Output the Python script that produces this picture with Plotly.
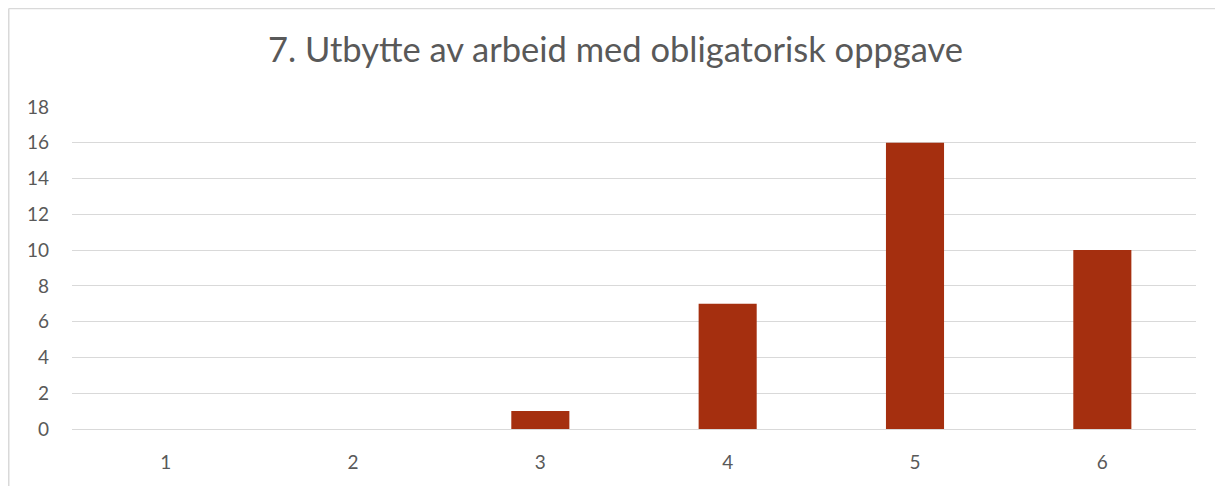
import plotly.graph_objects as go

# data
categories = ["1", "2", "3", "4", "5", "6"]
counts = [0, 0, 1, 7, 16, 10]
y_ticks = [0, 2, 4, 6, 8, 10, 12, 14, 16, 18]

# page body adds an 8px offset, so the figure is sized to fit the window
W, H = 1215, 478
L, R, T, B = 64, 27, 99, 57
plot_w = W - L - R
plot_h = H - T - B

fig = go.Figure()
fig.add_trace(go.Bar(
    x=categories, y=counts,
    marker=dict(color="#A52F0F", line=dict(width=0)),
    hoverinfo="x+y",
))

grey = "#595959"
fig.update_layout(
    width=W, height=H,
    margin=dict(l=L, r=R, t=T, b=B),
    paper_bgcolor="white", plot_bgcolor="white",
    font=dict(family="Lato, Open Sans, sans-serif", size=19, color=grey),
    title=dict(
        text="7. Utbytte av arbeid med obligatorisk oppgave",
        x=0.5, xanchor="center", y=1 - 42 / H, yanchor="middle",
        font=dict(size=34.5, color=grey),
    ),
    bargap=0.69,
    showlegend=False,
    xaxis=dict(
        type="category", showgrid=False, showline=False, ticks="",
        ticklabelstandoff=20, tickfont=dict(size=19, color=grey),
    ),
    yaxis=dict(
        range=[0, 18], tickvals=y_ticks, showgrid=True,
        gridcolor="#D9D9D9", gridwidth=1, zeroline=True,
        zerolinecolor="#D9D9D9", zerolinewidth=1, showline=False,
        ticks="", ticklabelstandoff=22, tickfont=dict(size=19, color=grey),
    ),
)

# chart-area border (only top and left edges visible in the crop)
bx = (0.75 - L) / plot_w
by = (H - B - 0.5) / plot_h
fig.add_shape(type="line", xref="paper", yref="paper",
              x0=bx, x1=(W - L) / plot_w + 0.01, y0=by, y1=by,
              line=dict(color="#D9D9D9", width=1.5))
fig.add_shape(type="line", xref="paper", yref="paper",
              x0=bx, x1=bx, y0=by, y1=-B / plot_h - 0.01,
              line=dict(color="#D9D9D9", width=1.5))

fig.write_html("out.html")
